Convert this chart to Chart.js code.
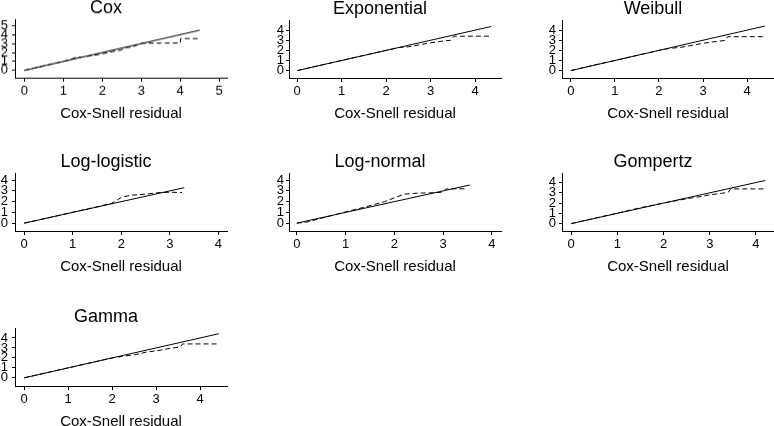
<!DOCTYPE html>
<html>
<head>
<meta charset="utf-8">
<script src="https://cdn.jsdelivr.net/npm/chart.js@4.4.1/dist/chart.umd.min.js"></script>
<style>
  html, body { margin: 0; padding: 0; background: #fff; overflow: hidden; width: 774px; height: 426px; }
  canvas { position: absolute; }
</style>
</head>
<body>
<script>
// panel titles
const titles = ['Cox', 'Exponential', 'Weibull', 'Log-logistic', 'Log-normal', 'Gompertz', 'Gamma'];

// Nelson-Aalen cumulative hazard vs Cox-Snell residual (dashed)
const coxRes = [0, 0.3, 0.6, 0.9, 1.2, 1.3, 1.5, 1.8, 2.0, 2.2, 2.5, 2.6, 2.75, 2.9, 3.0, 3.5, 4.0, 4.01, 4.45];
const coxHaz = [0, 0.3, 0.6, 0.9, 1.25, 1.42, 1.5, 1.7, 1.85, 2.05, 2.3, 2.55, 2.6, 2.85, 3.05, 3.05, 3.07, 3.56, 3.56];
const expRes = [0, 0.5, 1.0, 1.5, 2.0, 2.3, 2.5, 2.75, 3.0, 3.25, 3.45, 3.52, 4.36];
const expHaz = [0, 0.5, 1.0, 1.5, 2.0, 2.28, 2.35, 2.55, 2.75, 2.9, 3.0, 3.4, 3.4];
const weiRes = [0, 0.5, 1.0, 1.5, 2.0, 2.25, 2.5, 2.75, 3.0, 3.25, 3.5, 3.56, 4.4];
const weiHaz = [0, 0.52, 1.0, 1.5, 2.0, 2.2, 2.3, 2.5, 2.7, 2.85, 2.98, 3.35, 3.35];
const llRes = [0, 0.5, 1.0, 1.5, 1.8, 1.9, 2.0, 2.2, 2.5, 2.8, 3.0, 3.25];
const llHaz = [0, 0.5, 1.02, 1.52, 1.85, 2.1, 2.4, 2.6, 2.7, 2.85, 2.88, 2.85];
const lnRes = [0, 0.2, 0.5, 1.0, 1.4, 1.8, 2.2, 2.5, 2.75, 2.9, 3.0, 3.05, 3.1, 3.5];
const lnHaz = [0, 0.1, 0.45, 1.05, 1.5, 2.0, 2.7, 2.8, 2.82, 2.85, 2.9, 3.15, 3.2, 3.2];
const gomRes = [0, 0.5, 1.0, 1.5, 2.0, 2.5, 2.75, 3.0, 3.25, 3.4, 3.45, 4.2];
const gomHaz = [0, 0.52, 1.02, 1.55, 2.0, 2.42, 2.6, 2.8, 2.95, 3.05, 3.38, 3.38];
const gamRes = [0, 0.5, 1.0, 1.5, 2.0, 2.3, 2.5, 2.8, 3.0, 3.3, 3.55, 3.6, 4.4];
const gamHaz = [0, 0.5, 1.0, 1.5, 2.0, 2.2, 2.3, 2.6, 2.7, 2.95, 3.1, 3.4, 3.4];

// end of the 45 degree reference line (solid)
const refMax = [4.5, 4.36, 4.4, 3.3, 3.55, 4.2, 4.42];

const residuals = [coxRes, expRes, weiRes, llRes, lnRes, gomRes, gamRes];
const hazards = [coxHaz, expHaz, weiHaz, llHaz, lnHaz, gomHaz, gamHaz];

// plot area placement and axis ranges
const layout = [
  { left: 15,    top: 19.5,  xMin: -0.24, xMax: 5.2,  yMin: -0.82, yMax: 5.7,  yPad: 4 },
  { left: 289,   top: 20,    xMin: -0.18, xMax: 4.58, yMin: -0.73, yMax: 4.97, yPad: 2 },
  { left: 561.7, top: 20,    xMin: -0.2,  xMax: 4.61, yMin: -0.73, yMax: 4.97, yPad: 3 },
  { left: 15,    top: 173.3, xMin: -0.19, xMax: 4.18, yMin: -0.73, yMax: 4.64, yPad: 4 },
  { left: 289,   top: 173.3, xMin: -0.16, xMax: 4.19, yMin: -0.73, yMax: 4.64, yPad: 2 },
  { left: 562,   top: 173.3, xMin: -0.2,  xMax: 4.39, yMin: -0.72, yMax: 4.9,  yPad: 3 },
  { left: 15,    top: 328.3, xMin: -0.21, xMax: 4.61, yMin: -0.82, yMax: 4.97, yPad: 4 }
];

const W = 212, H = 58;      // plot area
const YW = 30;              // y axis box width
const XH = 45;              // x axis box height
const TH = 24.3;            // title box height

Chart.defaults.font.family = "'Liberation Sans', Arial, sans-serif";
Chart.defaults.color = '#000';

titles.forEach((t, i) => {
  const p = layout[i];
  const c = document.createElement('canvas');
  const cw = W + YW * 2, ch = TH + H + XH;
  c.width = cw; c.height = ch;
  c.style.left = (p.left - YW) + 'px';
  c.style.top = (p.top - TH) + 'px';
  c.style.width = cw + 'px';
  c.style.height = ch + 'px';
  document.body.appendChild(c);

  const dashed = residuals[i].map((r, k) => ({ x: r, y: hazards[i][k] }));
  const ref = [{ x: 0, y: 0 }, { x: refMax[i], y: refMax[i] }];

  new Chart(c, {
    type: 'scatter',
    data: {
      datasets: [
        { data: dashed, showLine: true, borderColor: '#000', borderWidth: 1, borderDash: [5, 3], pointRadius: 0, tension: 0 },
        { data: ref, showLine: true, borderColor: '#000', borderWidth: 1, pointRadius: 0, tension: 0 }
      ]
    },
    options: {
      responsive: false,
      animation: false,
      layout: { padding: { left: 0, right: YW, top: 0, bottom: 0 } },
      plugins: {
        legend: { display: false },
        tooltip: { enabled: false },
        title: {
          display: true, text: t, color: '#000',
          font: { size: 18, weight: 'normal' },
          padding: { top: 2, bottom: 0.7 }
        }
      },
      scales: {
        x: {
          type: 'linear', min: p.xMin, max: p.xMax,
          afterFit: s => { s.height = XH; },
          border: { display: true, color: '#000', width: 1 },
          grid: { display: true, drawOnChartArea: false, drawTicks: true, tickLength: 4, color: '#000' },
          ticks: { stepSize: 1, includeBounds: false, autoSkip: false, padding: 2, font: { size: 13 }, color: '#000' },
          title: { display: true, text: 'Cox-Snell residual', font: { size: 15 }, color: '#000', padding: { top: 0, bottom: 0 } }
        },
        y: {
          type: 'linear', min: p.yMin, max: p.yMax,
          afterFit: s => { s.width = YW; },
          border: { display: true, color: '#000', width: 1 },
          grid: { display: true, drawOnChartArea: false, drawTicks: true, tickLength: 3, color: '#000' },
          ticks: { stepSize: 1, includeBounds: false, autoSkip: false, padding: p.yPad, font: { size: 13 }, color: '#000' }
        }
      }
    }
  });
});
</script>
</body>
</html>
